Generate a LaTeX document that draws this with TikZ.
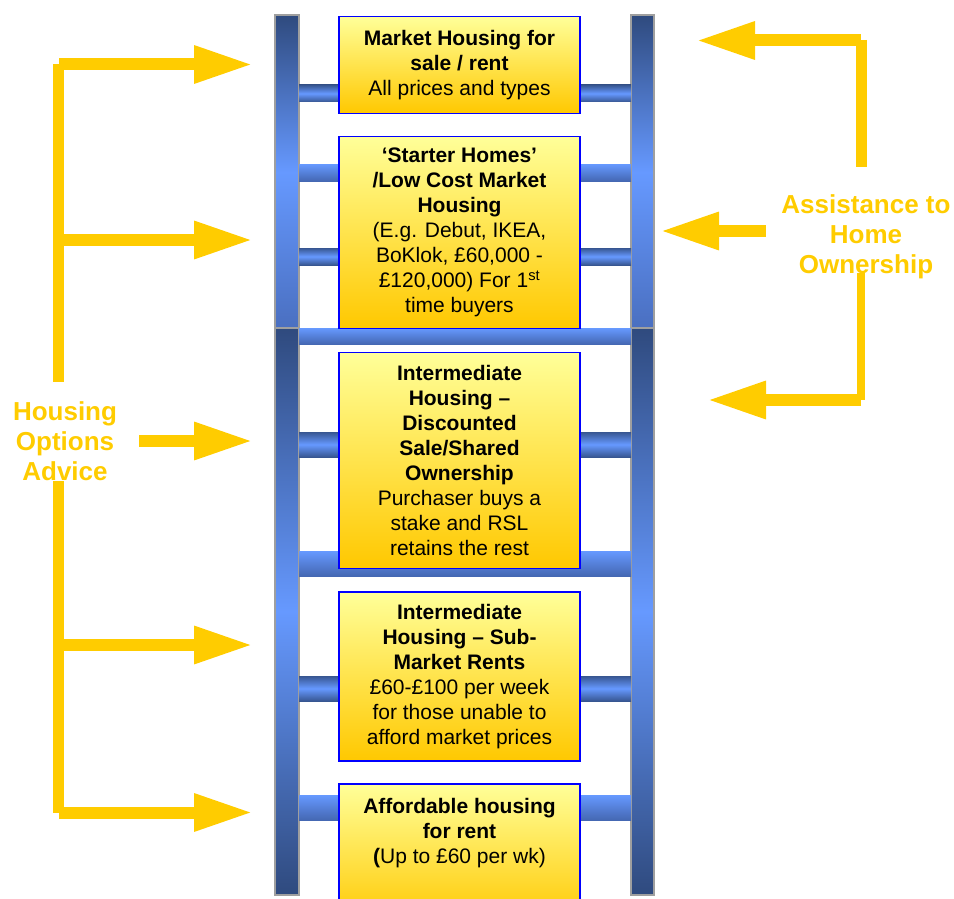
\documentclass[tikz,border=0pt]{standalone}
\usepackage{fontspec}
\setmainfont{Liberation Sans}
\usetikzlibrary{arrows.meta}
\definecolor{ygold}{HTML}{FFCC00}
\definecolor{rdark}{HTML}{2F4A7E}
\definecolor{rlight}{HTML}{6699FF}
\definecolor{rmid}{HTML}{4A6FC0}
\definecolor{bxtop}{HTML}{FFFF99}
\definecolor{bxbot}{HTML}{FFC800}
\definecolor{bxline}{HTML}{0000FF}
\begin{document}
\begin{tikzpicture}[x=1pt,y=-1pt,
 rail/.style={draw=gray!75, line width=1.5pt},
 rungA/.style={top color=rdark!85!rlight, bottom color=rdark!85!rlight, middle color=rlight},
 rungB/.style={top color=rlight, bottom color=rmid!80!rdark},
 box/.style={draw=bxline, line width=1.5pt, top color=bxtop, bottom color=bxbot, minimum width=241pt, inner sep=0pt, align=center, font=\fontsize{21}{25}\selectfont},
 btext/.style={align=center, inner sep=0pt, font=\fontsize{21}{25}\selectfont},
 glabel/.style={text=ygold, align=center, inner sep=0pt, font=\fontsize{26}{30}\selectfont\bfseries},
 ybar/.style={draw=ygold, line width=11pt},
 yarrow/.style={draw=ygold, line width=12pt, -{Triangle[length=59pt,width=35pt]}},
]
\useasboundingbox (0,0) rectangle (954,899);
\clip (0,0) rectangle (954,899);

% rails
\path[rail, top color=rdark, bottom color=rmid, middle color=rlight] (275,15) rectangle (299,329);
\path[rail, top color=rdark, bottom color=rmid, middle color=rlight] (631,15) rectangle (654,329);
\path[rail, top color=rdark, bottom color=rdark, middle color=rlight] (275,328) rectangle (299,895);
\path[rail, top color=rdark, bottom color=rdark, middle color=rlight] (631,328) rectangle (654,895);

% rungs
\path[rungA] (299,85) rectangle (631,102);
\path[rungB] (299,164) rectangle (631,181);
\path[rungA] (299,248) rectangle (631,265);
\path[rungB] (299,328) rectangle (631,344);
\path[rungA] (299,432) rectangle (631,457);
\path[rungB] (299,551) rectangle (631,576);
\path[rungA] (299,676) rectangle (631,701);
\path[rungB] (299,795) rectangle (631,820);

% boxes
\node[box, minimum height=97pt] (b1) at (459.5,65)
 {\textbf{Market Housing for}\\\textbf{sale / rent}\\All prices and types};
\node[box, minimum height=192pt] (b2) at (459.5,232.5)
 {\textbf{‘Starter Homes’}\\\textbf{/Low Cost Market}\\\textbf{Housing}\\(E.g. Debut, IKEA,\\BoKlok, £60,000 -\\£120,000) For 1\textsuperscript{st}\\time buyers};
\node[box, minimum height=216pt] (b3) at (459.5,460.5)
 {\textbf{Intermediate}\\\textbf{Housing –}\\\textbf{Discounted}\\\textbf{Sale/Shared}\\\textbf{Ownership}\\Purchaser buys a\\stake and RSL\\retains the rest};
\node[box, minimum height=169pt] (b4) at (459.5,676.5)
 {\textbf{Intermediate}\\\textbf{Housing – Sub-}\\\textbf{Market Rents}\\£60-£100 per week\\for those unable to\\afford market prices};
\node[box, minimum height=141pt] (b5) at (459.5,854.5) {};
\node[btext, anchor=north] (t5) at (459.5,798.5)
 {\textbf{Affordable housing}\\\textbf{for rent}\\\textbf{(}Up to £60 per wk)};

% labels
\node[glabel] (hoa) at (65,441) {Housing\\Options\\Advice};
\node[glabel] (aho) at (866,237) {Assistance to\\Home\\Ownership};

% left bracket
\coordinate (lv1a) at (58.5,64);  \coordinate (lv1b) at (58.5,382);
\coordinate (lv2a) at (58.5,481); \coordinate (lv2b) at (58.5,813);
\draw[ybar] (lv1a) -- (lv1b);
\draw[ybar] (lv2a) -- (lv2b);
\coordinate (la1) at (59,64.5);  \coordinate (lt1) at (253,64.5);
\coordinate (la2) at (59,240);   \coordinate (lt2) at (253,240);
\coordinate (la3) at (139,441);  \coordinate (lt3) at (253,441);
\coordinate (la4) at (59,645);   \coordinate (lt4) at (253,645);
\coordinate (la5) at (59,812.5); \coordinate (lt5) at (253,812.5);
\draw[yarrow] (la1) -- (lt1);
\draw[yarrow] (la2) -- (lt2);
\draw[yarrow] (la3) -- (lt3);
\draw[yarrow] (la4) -- (lt4);
\draw[yarrow] (la5) -- (lt5);

% right bracket
\coordinate (rv1a) at (861.5,40);  \coordinate (rv1b) at (861.5,167);
\coordinate (rv2a) at (860.5,273); \coordinate (rv2b) at (860.5,400);
\draw[ybar] (rv1a) -- (rv1b);
\draw[ybar, line width=8pt] (rv2a) -- (rv2b);
\coordinate (ra1) at (861,40.5); \coordinate (rt1) at (696,40.5);
\coordinate (ra2) at (766,231);  \coordinate (rt2) at (660,231);
\coordinate (ra3) at (861,400);  \coordinate (rt3) at (707,400);
\draw[yarrow] (ra1) -- (rt1);
\draw[yarrow] (ra2) -- (rt2);
\draw[yarrow] (ra3) -- (rt3);
\end{tikzpicture}
\end{document}
